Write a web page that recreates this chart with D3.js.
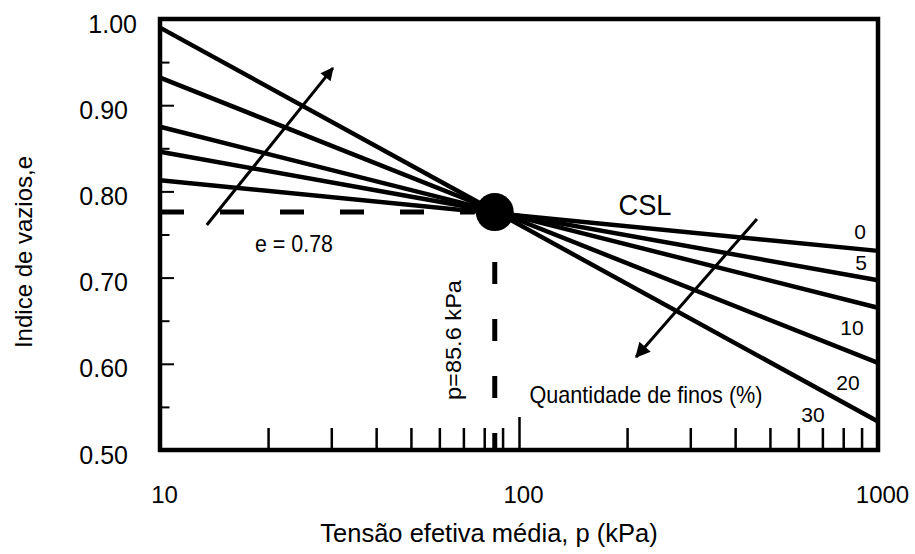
<!DOCTYPE html>
<html>
<head>
<meta charset="utf-8">
<script src="https://cdn.jsdelivr.net/npm/d3@7"></script>
<style>
  body { margin: 0; background: #fff; }
  svg { display: block; font-family: "Liberation Sans", Arial, sans-serif; }
</style>
</head>
<body>
<svg></svg>
<script>
const WIDTH = 915;
const HEIGHT = 554;
const margin = { top: 19, right: 37, bottom: 104, left: 160 };

// fines content (%) of each line and the void ratio read at p = 10 and p = 1000 kPa
const fines = ["0", "5", "10", "20", "30"];
const eAtP10 = [0.813, 0.846, 0.875, 0.932, 0.990];
const eAtP1000 = [0.731, 0.697, 0.665, 0.601, 0.533];
const pEnds = [10, 1000];

const yTickLabels = [0.5, 0.6, 0.7, 0.8, 0.9, 1.0];
const yMinorTicks = [0.55, 0.65, 0.75, 0.85, 0.95];
const xTickLabels = [10, 100, 1000];

const cslPoint = { p: 85.6, e: 0.776 };
const arrowUp = [[13.5, 0.761], [30.3, 0.943]];
const arrowDown = [[460, 0.768], [212, 0.608]];

// where each fines label sits, relative to the right end of its line
const labelOffsets = [[-18, -12], [-17, -10], [-26, 27], [-30, 27], [-65, 0]];

const x = d3.scaleLog().domain([10, 1000]).range([margin.left, WIDTH - margin.right]);
const y = d3.scaleLinear().domain([0.5, 1.0]).range([HEIGHT - margin.bottom, margin.top]);

const svg = d3.select("svg").attr("width", WIDTH).attr("height", HEIGHT);

svg.append("defs").selectAll("marker")
  .data(["headUp", "headDown"])
  .join("marker")
  .attr("id", (d) => d)
  .attr("viewBox", "0 -5 10 10")
  .attr("refX", 9)
  .attr("refY", 0)
  .attr("markerUnits", "userSpaceOnUse")
  .attr("markerWidth", (d) => (d === "headUp" ? 15 : 17))
  .attr("markerHeight", (d) => (d === "headUp" ? 13 : 15))
  .attr("orient", "auto")
  .append("path")
  .attr("d", "M0,-5L10,0L0,5Z")
  .attr("fill", "#000");

// ticks on the x axis, pointing inwards
const xMinor = x.ticks().filter((d) => ![10, 100, 1000].includes(d));
svg.append("g")
  .attr("transform", `translate(0,${y(0.5)})`)
  .call(d3.axisBottom(x).tickValues(xMinor).tickSize(-22).tickFormat(""))
  .call((g) => g.select(".domain").remove())
  .call((g) => g.selectAll("line").attr("stroke", "#000").attr("stroke-width", 2.5));
svg.append("g")
  .attr("transform", `translate(0,${y(0.5)})`)
  .call(d3.axisBottom(x).tickValues([100]).tickSize(-33).tickFormat(""))
  .call((g) => g.select(".domain").remove())
  .call((g) => g.selectAll("line").attr("stroke", "#000").attr("stroke-width", 2.5));

// x tick labels
svg.append("g")
  .attr("transform", `translate(0,${y(0.5)})`)
  .call(d3.axisBottom(x).tickValues(xTickLabels).tickSize(0).tickPadding(36).tickFormat(d3.format("d")))
  .call((g) => g.select(".domain").remove())
  .call((g) => g.selectAll("text")
    .attr("dx", 4)
    .attr("fill", "#000")
    .style("font-size", "24px")
    .style("font-family", "'Liberation Sans', Arial, sans-serif"));

// y ticks
svg.append("g")
  .attr("transform", `translate(${margin.left},0)`)
  .call(d3.axisLeft(y).tickValues(yTickLabels.filter((d) => d > 0.5 && d < 1)).tickSize(-14).tickFormat(""))
  .call((g) => g.select(".domain").remove())
  .call((g) => g.selectAll("line").attr("stroke", "#000").attr("stroke-width", 2));
svg.append("g")
  .attr("transform", `translate(${margin.left},0)`)
  .call(d3.axisLeft(y).tickValues(yMinorTicks).tickSize(-9.5).tickFormat(""))
  .call((g) => g.select(".domain").remove())
  .call((g) => g.selectAll("line").attr("stroke", "#000").attr("stroke-width", 2));

// y tick labels
svg.append("g")
  .attr("transform", `translate(${margin.left},0)`)
  .call(d3.axisLeft(y).tickValues(yTickLabels).tickSize(0).tickPadding(32).tickFormat(d3.format(".2f")))
  .call((g) => g.select(".domain").remove())
  .call((g) => g.selectAll("text")
    .attr("dy", "0.52em")
    .attr("dx", (d) => (d === 1 ? 9 : 0))
    .attr("fill", "#000")
    .style("font-size", "25px")
    .style("font-family", "'Liberation Sans', Arial, sans-serif"));

// plot frame
svg.append("rect")
  .attr("x", x(10))
  .attr("y", y(1.0))
  .attr("width", x(1000) - x(10))
  .attr("height", y(0.5) - y(1.0))
  .attr("fill", "none")
  .attr("stroke", "#000")
  .attr("stroke-width", 4.5);

// dashed guides to the critical state point
svg.append("line")
  .attr("x1", x(10)).attr("x2", x(cslPoint.p) - 20)
  .attr("y1", y(cslPoint.e)).attr("y2", y(cslPoint.e))
  .attr("stroke", "#000").attr("stroke-width", 5)
  .attr("stroke-dasharray", "24 36");
svg.append("line")
  .attr("x1", x(cslPoint.p)).attr("x2", x(cslPoint.p))
  .attr("y1", y(cslPoint.e) + 50).attr("y2", y(0.5))
  .attr("stroke", "#000").attr("stroke-width", 5)
  .attr("stroke-dasharray", "22 35");

// CSL lines
const line = d3.line().x((d) => x(d[0])).y((d) => y(d[1]));
const series = fines.map((f, i) => ({ fines: f, pts: [[pEnds[0], eAtP10[i]], [pEnds[1], eAtP1000[i]]] }));

svg.append("g")
  .selectAll("path")
  .data(series)
  .join("path")
  .attr("d", (d) => line(d.pts))
  .attr("fill", "none")
  .attr("stroke", "#000")
  .attr("stroke-width", 4.5);

svg.append("g")
  .selectAll("text")
  .data(series)
  .join("text")
  .attr("x", (d, i) => x(d.pts[1][0]) + labelOffsets[i][0])
  .attr("y", (d, i) => y(d.pts[1][1]) + labelOffsets[i][1])
  .attr("text-anchor", "middle")
  .style("font-size", "21px")
  .text((d) => d.fines);

svg.append("circle")
  .attr("cx", x(cslPoint.p))
  .attr("cy", y(cslPoint.e))
  .attr("r", 19)
  .attr("fill", "#000");

// arrows
svg.append("path")
  .attr("d", line(arrowUp))
  .attr("stroke", "#000").attr("stroke-width", 3)
  .attr("marker-end", "url(#headUp)");
svg.append("path")
  .attr("d", line(arrowDown))
  .attr("stroke", "#000").attr("stroke-width", 3)
  .attr("marker-end", "url(#headDown)");

// annotations
svg.append("text")
  .attr("x", 294).attr("y", 252)
  .attr("text-anchor", "middle")
  .attr("textLength", 78).attr("lengthAdjust", "spacingAndGlyphs")
  .style("font-size", "23px")
  .text("e = 0.78");

svg.append("text")
  .attr("transform", "translate(461,340) rotate(-90)")
  .attr("text-anchor", "middle")
  .attr("textLength", 120).attr("lengthAdjust", "spacingAndGlyphs")
  .style("font-size", "22px")
  .text("p=85.6 kPa");

svg.append("text")
  .attr("x", 645).attr("y", 215)
  .attr("text-anchor", "middle")
  .attr("textLength", 53).attr("lengthAdjust", "spacingAndGlyphs")
  .style("font-size", "30px")
  .text("CSL");

svg.append("text")
  .attr("x", 646).attr("y", 403)
  .attr("text-anchor", "middle")
  .attr("textLength", 233).attr("lengthAdjust", "spacingAndGlyphs")
  .style("font-size", "24px")
  .text("Quantidade de finos (%)");

// axis titles
svg.append("text")
  .attr("x", 489).attr("y", 542)
  .attr("text-anchor", "middle")
  .style("font-size", "25.5px")
  .text("Tensão efetiva média, p (kPa)");

svg.append("text")
  .attr("transform", "translate(32,252) rotate(-90)")
  .attr("text-anchor", "middle")
  .style("font-size", "24px")
  .text("Indice de vazios,e");
</script>
</body>
</html>
